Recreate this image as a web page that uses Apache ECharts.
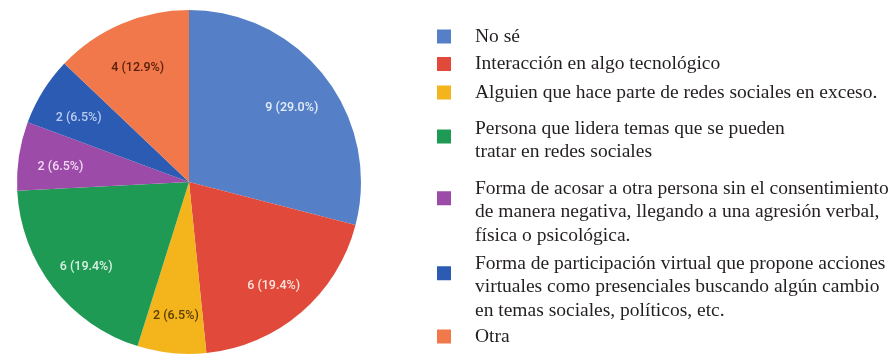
<!DOCTYPE html>
<html>
<head>
<meta charset="utf-8">
<script src="https://cdn.jsdelivr.net/npm/echarts@6/dist/echarts.min.js"></script>
<style>
  html, body { margin: 0; padding: 0; background: #ffffff; }
  #chart { width: 889px; height: 356px; }
</style>
</head>
<body>
<div id="chart"></div>
<script>
// Answer categories (line breaks are where the legend wraps)
const categories = [
  'No sé',
  'Interacción en algo tecnológico',
  'Alguien que hace parte de redes sociales en exceso.',
  'Persona que lidera temas que se pueden\ntratar en redes sociales',
  'Forma de acosar a otra persona sin el consentimiento\nde manera negativa, llegando a una agresión verbal,\nfísica o psicológica.',
  'Forma de participación virtual que propone acciones\nvirtuales como presenciales buscando algún cambio\nen temas sociales, políticos, etc.',
  'Otra'
];

// Number of responses per category
const counts = [9, 6, 2, 6, 2, 2, 4];

// Slice fill colours and the colour of the value label drawn on each slice
const sliceColors = ['#5580c7', '#e14a3b', '#f4b41c', '#1f9a55', '#9d4ba9', '#2c5bb3', '#f0784a'];
const labelColors = ['#e6ecf8', '#fbe3de', '#5a3c02', '#dcf1e4', '#f1d8f3', '#b9cbf1', '#5b200b'];

const total = counts.reduce((a, b) => a + b, 0);

const chart = echarts.init(document.getElementById('chart'), null, { renderer: 'canvas' });

// Pie geometry
const pieCenter = [189, 182];
const pieRadius = 172;
const labelRing = 82; // inner edge of the transparent ring that carries the labels

// Legend layout: vertical anchor of each entry, and the height of an empty
// leading line that lifts the swatch toward the first lines of wrapped entries
const legendLineTops = [26.5, 54, 82.5, 116.5, 176.5, 251.5, 326.5];
const legendLift = [0, 0, 0, 8, 28, 28, 0];

const legendText = {
  fontFamily: 'Liberation Serif',
  fontSize: 19.5,
  lineHeight: 23.5,
  color: '#231f20',
  padding: [0, 0, 0, 19]
};

const legends = categories.map((name, i) => ({
  data: [name],
  orient: 'vertical',
  left: 437,
  top: legendLineTops[i] - legendLift[i] / 2,
  padding: 0,
  itemWidth: 14,
  itemHeight: 14,
  icon: 'rect',
  selectedMode: false,
  formatter: n => {
    const lines = n.split('\n').map(l => '{t|' + l + '}');
    if (legendLift[i] > 0) lines.unshift('{g| }');
    return lines.join('\n');
  },
  textStyle: {
    rich: {
      t: legendText,
      g: { fontSize: 1, lineHeight: legendLift[i] }
    }
  }
}));

const pieData = categories.map((name, i) => ({
  name: name,
  value: counts[i],
  itemStyle: { color: sliceColors[i] }
}));

chart.setOption({
  backgroundColor: '#ffffff',
  animation: false,
  legend: legends,
  series: [
    {
      type: 'pie',
      center: pieCenter,
      radius: [0, pieRadius],
      startAngle: 90,
      clockwise: true,
      silent: true,
      label: { show: false },
      labelLine: { show: false },
      emphasis: { disabled: true },
      data: pieData
    },
    {
      // transparent ring used only to place the value labels inside the slices
      type: 'pie',
      center: pieCenter,
      radius: [labelRing, pieRadius],
      startAngle: 90,
      clockwise: true,
      silent: true,
      itemStyle: { color: 'rgba(0,0,0,0)' },
      emphasis: { disabled: true },
      labelLine: { show: false },
      label: {
        show: true,
        position: 'inside',
        offset: [0, 5],
        fontFamily: 'Roboto',
        fontSize: 12.5,
        fontWeight: 500,
        formatter: p => p.value + ' (' + (p.value / total * 100).toFixed(1) + '%)'
      },
      data: categories.map((name, i) => ({
        name: name,
        value: counts[i],
        itemStyle: { color: 'rgba(0,0,0,0)' },
        label: { color: labelColors[i] }
      }))
    }
  ]
});
</script>
</body>
</html>
